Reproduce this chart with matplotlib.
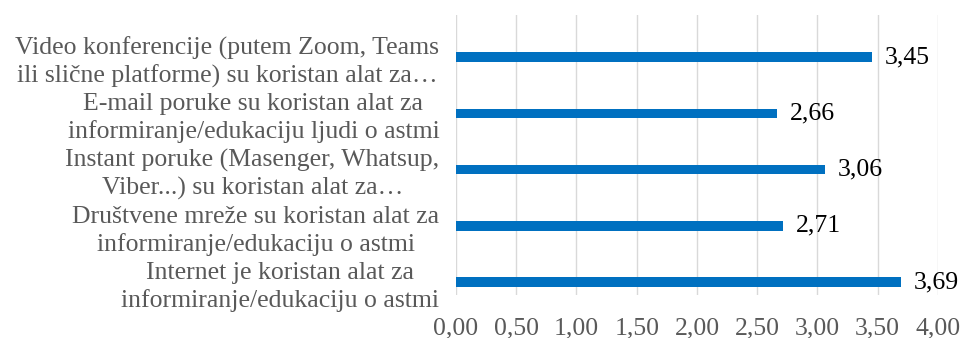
import matplotlib.pyplot as plt
import numpy as np

plt.rcParams["font.family"] = ["Liberation Serif", "DejaVu Serif"]

# items listed top to bottom
labels = [
    "Video konferencije (putem Zoom, Teams\nili slične platforme) su koristan alat za…",
    "E-mail poruke su koristan alat za\ninformiranje/edukaciju ljudi o astmi",
    "Instant poruke (Masenger, Whatsup,\nViber...) su koristan alat za…",
    "Društvene mreže su koristan alat za\ninformiranje/edukaciju o astmi",
    "Internet je koristan alat za\ninformiranje/edukaciju o astmi",
]
values = [3.45, 2.66, 3.06, 2.71, 3.69]
xticks = np.arange(0, 4.01, 0.5)

fig = plt.figure(figsize=(9.65, 3.38), dpi=100)
ax = fig.add_axes([0.4725, 0.127, 0.4995, 0.829])

ypos = np.arange(len(values))[::-1]
ax.barh(ypos, values, height=0.17, color="#0070C0", zorder=3)

for y, v in zip(ypos, values):
    ax.text(v + 0.11, y, f"{v:.2f}".replace(".", ","), va="center", ha="left",
            fontsize=18.5, color="black")

ax.set_xlim(0, 4)
ax.set_ylim(-0.23, 4.75)
ax.set_xticks(xticks)
ax.set_xticklabels([f"{t:.2f}".replace(".", ",") for t in xticks],
                   fontsize=18.5, color="#595959")
ax.set_yticks(ypos)
ax.set_yticklabels(labels, fontsize=18.5, color="#595959",
                   multialignment="center", linespacing=1.27)
ax.tick_params(axis="both", length=0)
ax.tick_params(axis="y", pad=12)
ax.tick_params(axis="x", pad=16)
ax.grid(axis="x", color="#D9D9D9", linewidth=1, zorder=0)
for s in ax.spines.values():
    s.set_visible(False)

fig.savefig("out.png", dpi=100)
